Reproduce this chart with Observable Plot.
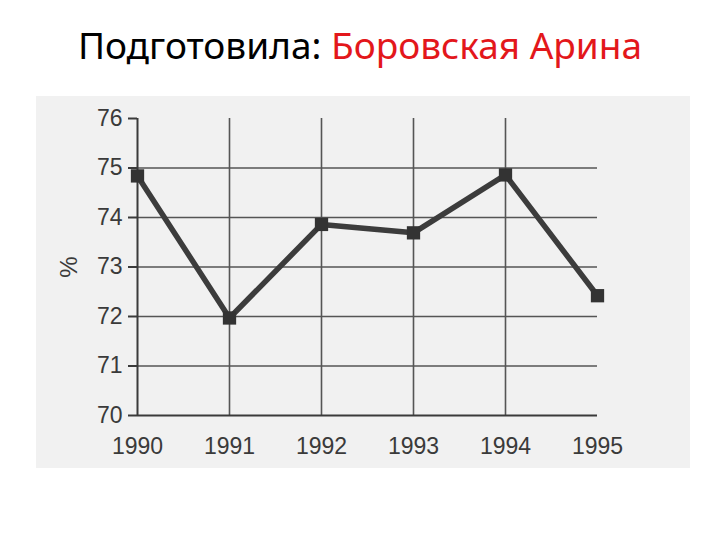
<!DOCTYPE html>
<html><head><meta charset="utf-8">
<script src="https://cdn.jsdelivr.net/npm/d3@7"></script>
<script src="https://cdn.jsdelivr.net/npm/@observablehq/plot@0.6"></script>
<style>
body{margin:0;background:#fff;width:720px;height:540px;position:relative;overflow:hidden;}
#title{position:absolute;left:0;top:0;width:720px;height:90px;line-height:90px;text-align:center;font-family:"Noto Sans",sans-serif;font-size:37px;color:#000;white-space:nowrap;}
#title span{color:#e3171b;}
#scan{position:absolute;left:36px;top:96px;width:654px;height:372px;background:#f1f1f1;}
#chart{position:absolute;left:0;top:90px;}
</style></head>
<body>
<div id="title">Подготовила: <span>Боровская Арина</span></div>
<div id="scan"></div>
<div id="chart"></div>
<script>
const years = [1990, 1991, 1992, 1993, 1994, 1995];
const values = [74.84, 71.97, 73.86, 73.69, 74.86, 72.42];
const yTicks = [70, 71, 72, 73, 74, 75, 76];
const gridYears = [1991, 1992, 1993, 1994];
const gridValues = [71, 72, 73, 74, 75];
const yLabel = "%";

const data = years.map((y, i) => ({year: y, value: values[i]}));
const ink = "#3a3a3a";

const chart = Plot.plot({
  width: 720,
  height: 450,
  marginLeft: 137,
  marginRight: 123,
  marginTop: 28,
  marginBottom: 125,
  style: {background: "transparent", fontFamily: "'Liberation Sans', Arial, sans-serif", color: ink},
  x: {domain: [1990, 1995]},
  y: {domain: [70, 76]},
  marks: [
    Plot.ruleY(gridValues, {x1: 1990, x2: 1995, stroke: "#555", strokeWidth: 1.6}),
    Plot.ruleX(gridYears, {y1: 70, y2: 76, stroke: "#555", strokeWidth: 1.6}),
    Plot.ruleX([1990], {y1: 70, y2: 76, stroke: ink, strokeWidth: 2}),
    Plot.ruleY([70], {x1: 1990, x2: 1995, stroke: ink, strokeWidth: 2}),
    Plot.axisY(yTicks, {tickSize: 9, tickPadding: 6, fontSize: 23, stroke: ink, strokeWidth: 2, fill: ink, label: null, tickFormat: d => String(d)}),
    Plot.axisX(years, {tickSize: 0, tickPadding: 22, fontSize: 23, fill: ink, label: null, tickFormat: d => String(d)}),
    Plot.text([yLabel], {x: 1990, y: 73, dx: -68, rotate: -90, fontSize: 24, fill: ink}),
    Plot.line(data, {x: "year", y: "value", stroke: "#3c3c3c", strokeWidth: 5.5, strokeLinejoin: "miter"}),
    Plot.dot(data, {x: "year", y: "value", symbol: "square", r: 7.5, fill: "#333", stroke: "none"})
  ]
});
document.getElementById("chart").appendChild(chart);
</script>
</body></html>
